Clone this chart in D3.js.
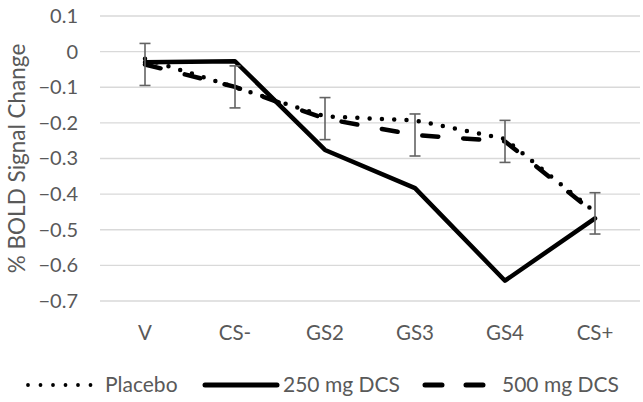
<!DOCTYPE html>
<html>
<head>
<meta charset="utf-8">
<script src="https://cdn.jsdelivr.net/npm/d3@7"></script>
<style>
  body { margin: 0; background: #fff; }
  svg text { font-family: Lato, "Open Sans", sans-serif; fill: #595959; }
</style>
</head>
<body>
<div class="chart"></div>
<script>
var categories = ["V", "CS-", "GS2", "GS3", "GS4", "CS+"];
var placebo = [-0.02, -0.1, -0.182, -0.193, -0.245, -0.45];
var dcs250 = [-0.03, -0.027, -0.276, -0.383, -0.643, -0.468];
var dcs500 = [-0.036, -0.099, -0.188, -0.234, -0.252, -0.454];
var errors500 = [0.059, 0.059, 0.059, 0.059, 0.059, 0.058];
var yTicks = [0.1, 0, -0.1, -0.2, -0.3, -0.4, -0.5, -0.6, -0.7];

var width = 643, height = 402;
var margin = { left: 100, right: 3, top: 16, bottom: 101 };

var svg = d3.select(".chart").append("svg")
    .attr("width", width)
    .attr("height", height);

var x = d3.scaleBand().domain(categories)
    .range([margin.left, width - margin.right]);
var y = d3.scaleLinear().domain([-0.7, 0.1])
    .range([height - margin.bottom, margin.top]);

// gridlines
svg.append("g").selectAll("line").data(yTicks).enter().append("line")
    .attr("x1", margin.left)
    .attr("x2", width - margin.right)
    .attr("y1", function (d) { return y(d); })
    .attr("y2", function (d) { return y(d); })
    .attr("stroke", "#d9d9d9")
    .attr("stroke-width", 1.3);

// y axis
var yAxis = svg.append("g")
    .attr("transform", "translate(" + (margin.left - 22) + ",0)")
    .call(d3.axisLeft(y).tickValues(yTicks).tickSize(0).tickPadding(0)
        .tickFormat(function (d) { return d === 0 ? "0" : d3.format(".1f")(d); }));
yAxis.select(".domain").remove();
yAxis.selectAll("text").attr("font-size", 20).attr("fill", "#595959")
    .style("font-family", "Lato, sans-serif");

// x axis
var xAxis = svg.append("g")
    .attr("transform", "translate(0," + (height - margin.bottom) + ")")
    .call(d3.axisBottom(x).tickSize(0).tickPadding(24));
xAxis.select(".domain").remove();
xAxis.selectAll("text").attr("font-size", 20.5).attr("fill", "#595959")
    .style("font-family", "Lato, sans-serif");

// y title
svg.append("text")
    .attr("transform", "translate(25," + ((margin.top + height - margin.bottom) / 2) + ") rotate(-90)")
    .attr("text-anchor", "middle")
    .attr("font-size", 22.5)
    .text("% BOLD Signal Change");

var cx = function (d, i) { return x(categories[i]) + x.bandwidth() / 2; };
var line = d3.line().x(cx).y(function (d) { return y(d); });

var series = [
    { name: "Placebo", values: placebo, dash: "0 12.3" },
    { name: "250 mg DCS", values: dcs250, dash: null },
    { name: "500 mg DCS", values: dcs500, dash: "16 25" }
];

// lines
svg.append("g").selectAll("path").data(series).enter().append("path")
    .attr("d", function (d) { return line(d.values); })
    .attr("fill", "none")
    .attr("stroke", "#000")
    .attr("stroke-width", 4.5)
    .attr("stroke-linecap", "round")
    .attr("stroke-linejoin", "round")
    .attr("stroke-dasharray", function (d) { return d.dash; });

// error bars on 500 mg DCS
var eb = svg.append("g").selectAll("g").data(dcs500).enter().append("g");
eb.append("line")
    .attr("x1", cx).attr("x2", cx)
    .attr("y1", function (d, i) { return y(d + errors500[i]); })
    .attr("y2", function (d, i) { return y(d - errors500[i]); });
eb.append("line")
    .attr("x1", function (d, i) { return cx(d, i) - 5.5; })
    .attr("x2", function (d, i) { return cx(d, i) + 5.5; })
    .attr("y1", function (d, i) { return y(d + errors500[i]); })
    .attr("y2", function (d, i) { return y(d + errors500[i]); });
eb.append("line")
    .attr("x1", function (d, i) { return cx(d, i) - 5.5; })
    .attr("x2", function (d, i) { return cx(d, i) + 5.5; })
    .attr("y1", function (d, i) { return y(d - errors500[i]); })
    .attr("y2", function (d, i) { return y(d - errors500[i]); });
eb.selectAll("line").attr("stroke", "#636363").attr("stroke-width", 1.6);

// legend
var legendY = 385;
var legendItems = [
    { x0: 28, x1: 91, tx: 105 },
    { x0: 205, x1: 277, tx: 283 },
    { x0: 425, x1: 488, tx: 502 }
];
var legend = svg.append("g").selectAll("g").data(series).enter().append("g");
legend.append("line")
    .attr("x1", function (d, i) { return legendItems[i].x0; })
    .attr("x2", function (d, i) { return legendItems[i].x1; })
    .attr("y1", legendY).attr("y2", legendY)
    .attr("stroke", "#000")
    .attr("stroke-width", function (d, i) { return i === 0 ? 3.8 : 5; })
    .attr("stroke-linecap", "round")
    .attr("stroke-dasharray", function (d, i) { return i === 0 ? "0 12.5" : (i === 2 ? "17 24" : null); });
legend.append("text")
    .attr("x", function (d, i) { return legendItems[i].tx; })
    .attr("y", legendY)
    .attr("dy", "0.35em")
    .attr("font-size", 21)
    .text(function (d) { return d.name; });
</script>
</body>
</html>
